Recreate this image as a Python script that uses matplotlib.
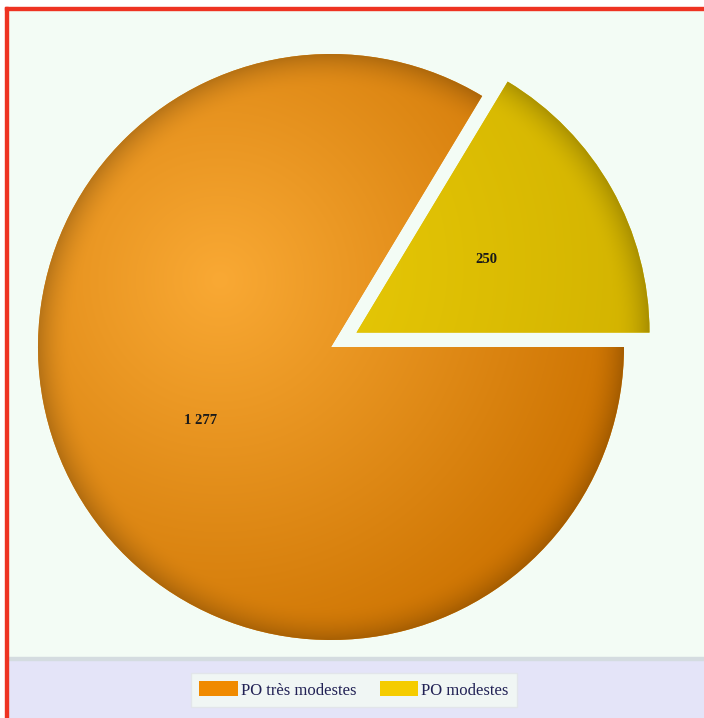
import numpy as np
import matplotlib
matplotlib.use("Agg")
import matplotlib.pyplot as plt
from matplotlib.patches import Rectangle
from matplotlib.colors import to_rgb

# data
categories = ["PO très modestes", "PO modestes"]
values = [1277, 250]
colors = ["#e88c10", "#dcc000"]
highlight = ["#f9a934", "#ebcd08"]
shade = ["#cc7200", "#d2b200"]

W, H = 704, 718
fig = plt.figure(figsize=(W / 100, H / 100), dpi=100)
fig.patch.set_facecolor("white")

ax = fig.add_axes([0, 0, 1, 1])
ax.set_xlim(0, W)
ax.set_ylim(0, H)
ax.axis("off")

# backgrounds: mint plot area, lavender legend band, red border
ax.add_patch(Rectangle((8, 60), W - 8, H - 70, color="#f3fcf5", zorder=0))
ax.add_patch(Rectangle((8, 0), W - 8, 60, color="#e4e4f8", zorder=0))
ax.add_patch(Rectangle((8, 58), W - 8, 3, color="#d4dce0", zorder=0))
ax.add_patch(Rectangle((5, 0), 3, H - 7, color="#ee3322", zorder=5))
ax.add_patch(Rectangle((5, H - 10), W - 5, 3, color="#ee3322", zorder=5))

cx, cy, R = 331, 371, 293
total = sum(values)


def fmt(pct):
    v = int(round(pct * total / 100.0))
    return f"{v:,}".replace(",", " ")


wedges, autotexts = ax.pie(values, colors=colors, startangle=0, counterclock=False,
                           explode=[0, 0.1 * R], center=(cx, cy), radius=R, frame=True,
                           autopct=lambda p: fmt(p), pctdistance=0.51,
                           wedgeprops=dict(linewidth=0),
                           textprops=dict(family="Liberation Serif", fontsize=10.5,
                                          fontweight="bold", color="#1a1a1a"))[0::2]
ax.set_xlim(0, W)
ax.set_ylim(0, H)

# shaded fill for each wedge, clipped to the wedge shape
yy, xx = np.mgrid[0:H, 0:W] + 0.5
for w, c_hi, c_lo in zip(wedges, highlight, shade):
    wx, wy = w.center
    hx, hy = wx - 111, wy + 67
    d = np.hypot(xx - hx, yy - hy) / 420.0
    d = np.clip(d, 0, 1)
    hi = np.array(to_rgb(c_hi))
    lo = np.array(to_rgb(c_lo))
    img = hi * (1 - d[..., None]) + lo * d[..., None]
    r = np.hypot(xx - wx, yy - wy) / R
    rim = np.clip((r - 0.88) / 0.12, 0, 1) ** 2
    img = img * (1 - 0.2 * rim[..., None])
    im = ax.imshow(np.clip(img, 0, 1), extent=(0, W, 0, H), origin="lower",
                   zorder=1.5, interpolation="bilinear")
    im.set_clip_path(w)
for t in autotexts:
    t.set_zorder(3)
ax.set_aspect("auto")

leg = ax.legend(wedges, categories, loc="center", bbox_to_anchor=(354 / W, 28 / H),
                ncol=2, frameon=True, fancybox=False, handlelength=2.3,
                handleheight=1.0, handletextpad=0.2, columnspacing=1.4,
                borderpad=0.5, prop=dict(family="Liberation Serif", size=12))
leg.get_frame().set_facecolor("#f4fbf4")
leg.get_frame().set_edgecolor("#e0e4e8")
for txt in leg.get_texts():
    txt.set_color("#222255")
for h, c in zip(leg.legend_handles, ["#f08a00", "#f5cc00"]):
    h.set_facecolor(c)

fig.savefig("out.png", dpi=100)
